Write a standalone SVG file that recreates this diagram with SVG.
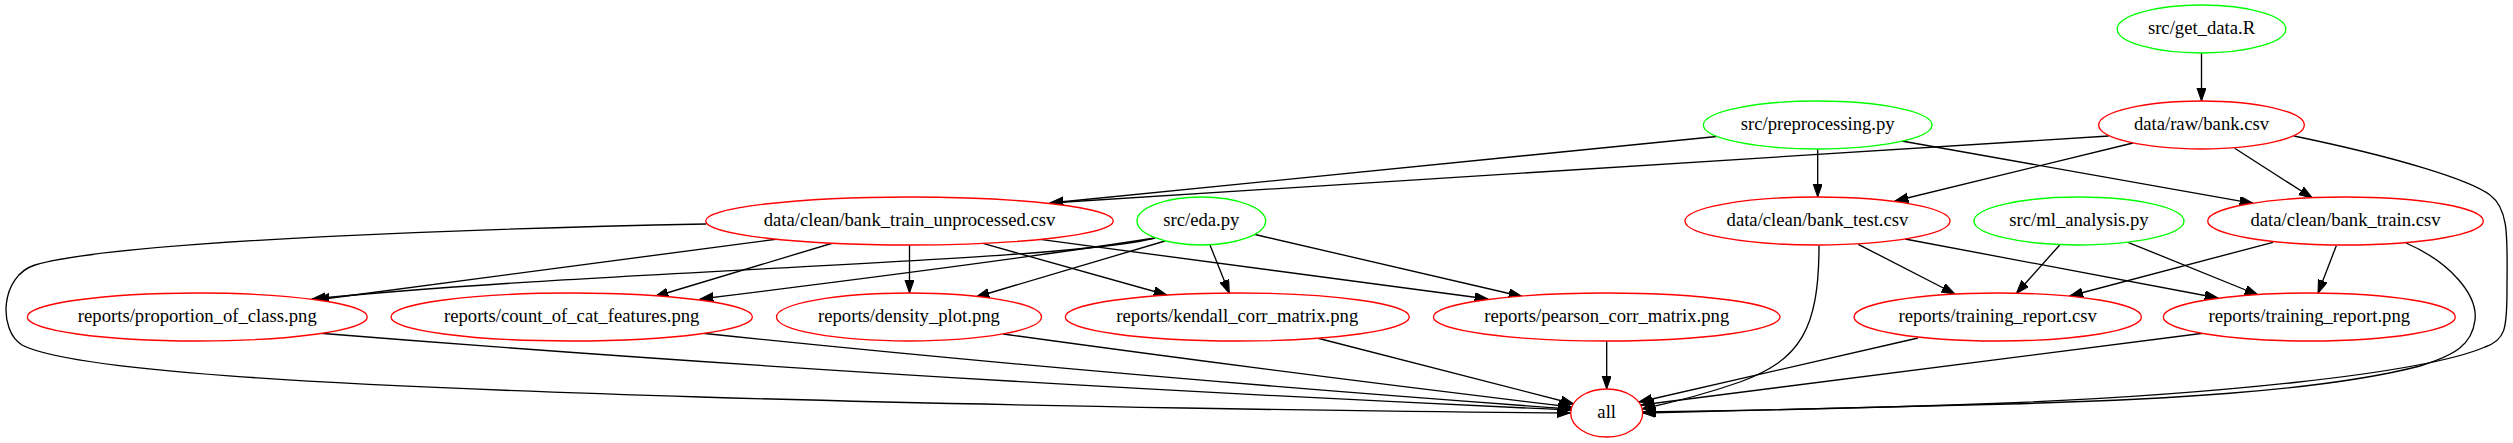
<svg xmlns="http://www.w3.org/2000/svg" width="2513" height="443" viewBox="0 0 2513 443">
<style>
.n ellipse{fill:#ffffff;stroke-width:1.33}
.r ellipse{stroke:#ff0000}
.g ellipse{stroke:#00ff00}
.n text{font-family:"Liberation Serif","Times New Roman",serif;font-size:18.67px;fill:#000000;text-anchor:middle}
#edges path{fill:none;stroke:#000000;stroke-width:1.33;marker-end:url(#arr)}
</style>
<defs>
<marker id="arr" markerUnits="userSpaceOnUse" markerWidth="16" markerHeight="12" refX="13.33" refY="4.67" orient="auto">
<path d="M0,0 L13.33,4.67 L0,9.33 Z" fill="#000000" stroke="#000000" stroke-width="1"/>
</marker>
</defs>
<rect width="2513" height="443" fill="#ffffff"/>
<g id="edges">
<path d="M2201.5,53 L2201.5,101"/>
<path d="M2108.7,136 L1050,203"/>
<path d="M1716.7,136.5 L1050,203"/>
<path d="M2133,143 L1895,201"/>
<path d="M2234.7,148.3 L2312.3,198"/>
<path d="M1901.7,141 L2253,203.3"/>
<path d="M1817.7,149 L1817.7,197"/>
<path d="M2294,136 C2400,158 2470,180 2490,195 C2510,210 2507,240 2507,290 C2507,330 2505,340 2485,347 C2420,375 2200,395 2008,403 C1850,409 1720,411 1643,412"/>
<path d="M2406,243 C2450,262 2478,295 2475,320 C2472,345 2455,355 2420,366 C2320,392 2150,400 2008,404 C1850,409 1720,412 1643,413"/>
<path d="M706,224 C500,228 120,240 35,265 C0,276 -2,330 22,345 C70,370 300,385 700,397 C1000,406 1400,412 1570,413"/>
<path d="M778,239 L316,300"/>
<path d="M833,243 L655,296.5"/>
<path d="M909.5,245 L909.5,293"/>
<path d="M983,243.4 L1167,295"/>
<path d="M1040,239.4 L1488,299"/>
<path d="M1155,238 C1060,262 600,270 312,299"/>
<path d="M1155,238 Q1000,262 700,299"/>
<path d="M1165,241 L976,297"/>
<path d="M1210,245 L1229.3,293.3"/>
<path d="M1255,234.5 L1522,296.5"/>
<path d="M1819,245.5 C1819,330 1800,360 1740,382 C1700,396 1670,403 1642,409"/>
<path d="M1858.3,244.3 L1955,294"/>
<path d="M1905,239 L2218,298"/>
<path d="M2059.7,245 L2016.3,293.5"/>
<path d="M2128,242.3 L2258,295"/>
<path d="M2273,242.3 L2069.7,296"/>
<path d="M2336.3,245.7 L2318,293.3"/>
<path d="M317,333 Q900,380 1571,410"/>
<path d="M700,333 Q1100,375 1571,409"/>
<path d="M1003,334 Q1300,375 1572,407"/>
<path d="M1317,338 L1574,404"/>
<path d="M1606.7,341 L1606.7,389"/>
<path d="M1918,338 L1639,402"/>
<path d="M2205,333 L1641,405"/>
</g>
<g id="get_data" class="n g"><ellipse cx="2201.5" cy="29" rx="84.3" ry="24"/><text x="2201.5" y="34">src/get_data.R</text></g>
<g id="raw_bank" class="n r"><ellipse cx="2201.5" cy="125" rx="102.8" ry="24"/><text x="2201.5" y="130">data/raw/bank.csv</text></g>
<g id="preprocessing" class="n g"><ellipse cx="1817.7" cy="125" rx="114.3" ry="24"/><text x="1817.7" y="130">src/preprocessing.py</text></g>
<g id="train_unprocessed" class="n r"><ellipse cx="909.5" cy="221" rx="203.8" ry="24"/><text x="909.5" y="226">data/clean/bank_train_unprocessed.csv</text></g>
<g id="eda" class="n g"><ellipse cx="1201.3" cy="221" rx="64.3" ry="24"/><text x="1201.3" y="226">src/eda.py</text></g>
<g id="bank_test" class="n r"><ellipse cx="1817.5" cy="221" rx="132.5" ry="24"/><text x="1817.5" y="226">data/clean/bank_test.csv</text></g>
<g id="ml_analysis" class="n g"><ellipse cx="2079" cy="221" rx="105" ry="24"/><text x="2079" y="226">src/ml_analysis.py</text></g>
<g id="bank_train" class="n r"><ellipse cx="2345.5" cy="221" rx="137.8" ry="24"/><text x="2345.5" y="226">data/clean/bank_train.csv</text></g>
<g id="proportion_of_class" class="n r"><ellipse cx="197.3" cy="317" rx="170" ry="24"/><text x="197.3" y="322">reports/proportion_of_class.png</text></g>
<g id="count_of_cat_features" class="n r"><ellipse cx="571.7" cy="317" rx="180.7" ry="24"/><text x="571.7" y="322">reports/count_of_cat_features.png</text></g>
<g id="density_plot" class="n r"><ellipse cx="909" cy="317" rx="132.5" ry="24"/><text x="909" y="322">reports/density_plot.png</text></g>
<g id="kendall_corr_matrix" class="n r"><ellipse cx="1237.3" cy="317" rx="172" ry="24"/><text x="1237.3" y="322">reports/kendall_corr_matrix.png</text></g>
<g id="pearson_corr_matrix" class="n r"><ellipse cx="1606.7" cy="317" rx="173.3" ry="24"/><text x="1606.7" y="322">reports/pearson_corr_matrix.png</text></g>
<g id="training_report_csv" class="n r"><ellipse cx="1997.7" cy="317" rx="143.7" ry="24"/><text x="1997.7" y="322">reports/training_report.csv</text></g>
<g id="training_report_png" class="n r"><ellipse cx="2309.3" cy="317" rx="146" ry="24"/><text x="2309.3" y="322">reports/training_report.png</text></g>
<g id="all" class="n r"><ellipse cx="1606.7" cy="413" rx="36" ry="24"/><text x="1606.7" y="418">all</text></g>
</svg>
